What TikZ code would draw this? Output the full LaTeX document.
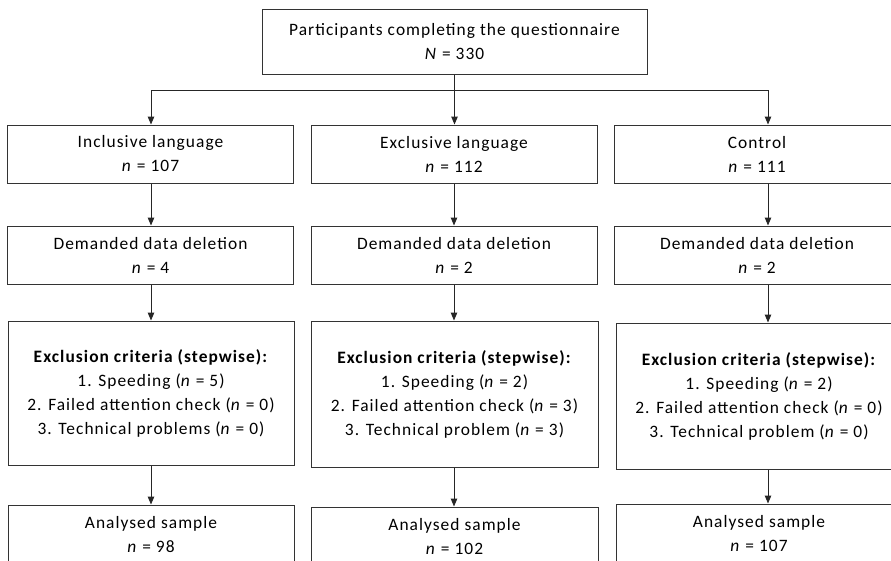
\documentclass[tikz,border=0pt]{standalone}
\usepackage{fontspec}
\setmainfont{Carlito}[LetterSpace=6]
\usetikzlibrary{arrows.meta}
\begin{document}
\begin{tikzpicture}[x=1pt,y=-1pt,
  box/.style={draw=black!80, line width=1pt, rectangle, inner sep=0pt, align=center,
    minimum width=286pt, minimum height=58pt, font=\fontsize{17.4}{24}\selectfont},
  link/.style={draw=black!85, line width=1pt},
  arr/.style={link, -{Triangle[width=6.5pt,length=8pt]}},
]
\useasboundingbox (0,0) rectangle (891,560);
\clip (0,0) rectangle (891,560);
\fill[white] (0,0) rectangle (891,560);

\node[box, minimum width=385pt, minimum height=65pt] (top) at (454.5,41.5)
  {Participants completing the questionnaire\\\textit{N} = 330};

\node[box] (L1) at (150.5,154) {Inclusive language\\\textit{n} = 107};
\node[box] (M1) at (454,154) {Exclusive language\\\textit{n} = 112};
\node[box] (R1) at (757,154) {Control\\\textit{n} = 111};

\node[box] (L2) at (150.5,255) {Demanded data deletion\\\textit{n} = 4};
\node[box] (M2) at (454,255) {Demanded data deletion\\\textit{n} = 2};
\node[box] (R2) at (757,255) {Demanded data deletion\\\textit{n} = 2};

\node[box, minimum height=144pt] (L3) at (151,393)
  {\textbf{Exclusion criteria (stepwise):}\\1. Speeding (\textit{n} = 5)\\2. Failed attention check (\textit{n} = 0)\\3. Technical problems (\textit{n} = 0)};
\node[box, minimum height=146pt, minimum width=287pt] (M3) at (454.5,394)
  {\textbf{Exclusion criteria (stepwise):}\\1. Speeding (\textit{n} = 2)\\2. Failed attention check (\textit{n} = 3)\\3. Technical problem (\textit{n} = 3)};
\node[box, minimum height=146pt] (R3) at (759,396)
  {\textbf{Exclusion criteria (stepwise):}\\1. Speeding (\textit{n} = 2)\\2. Failed attention check (\textit{n} = 0)\\3. Technical problem (\textit{n} = 0)};

\node[box, minimum height=60pt] (L4) at (151,535) {Analysed sample\\\textit{n} = 98};
\node[box, minimum height=60pt, minimum width=287pt] (M4) at (454.5,537) {Analysed sample\\\textit{n} = 102};
\node[box, minimum height=60pt] (R4) at (759,534) {Analysed sample\\\textit{n} = 107};

\coordinate (jl) at (151,90);
\coordinate (jr) at (768,90);

\draw[link] (jl) -- (jr);
\draw[arr] (top.south) -- (top.south |- M1.north);
\draw[arr] (jl) -- (jl |- L1.north);
\draw[arr] (jr) -- (jr |- R1.north);

\draw[arr] (L1.south -| jl) -- (L2.north -| jl);
\draw[arr] (M1.south) -- (M2.north);
\draw[arr] (R1.south -| jr) -- (R2.north -| jr);

\draw[arr] (L2.south -| jl) -- (L3.north -| jl);
\draw[arr] (M2.south) -- (M3.north -| M2.south);
\draw[arr] (R2.south -| jr) -- (R3.north -| jr);

\draw[arr] (L3.south -| jl) -- (L4.north -| jl);
\draw[arr] (M3.south -| M2.south) -- (M4.north -| M2.south);
\draw[arr] (R3.south -| jr) -- (R4.north -| jr);
\end{tikzpicture}
\end{document}
